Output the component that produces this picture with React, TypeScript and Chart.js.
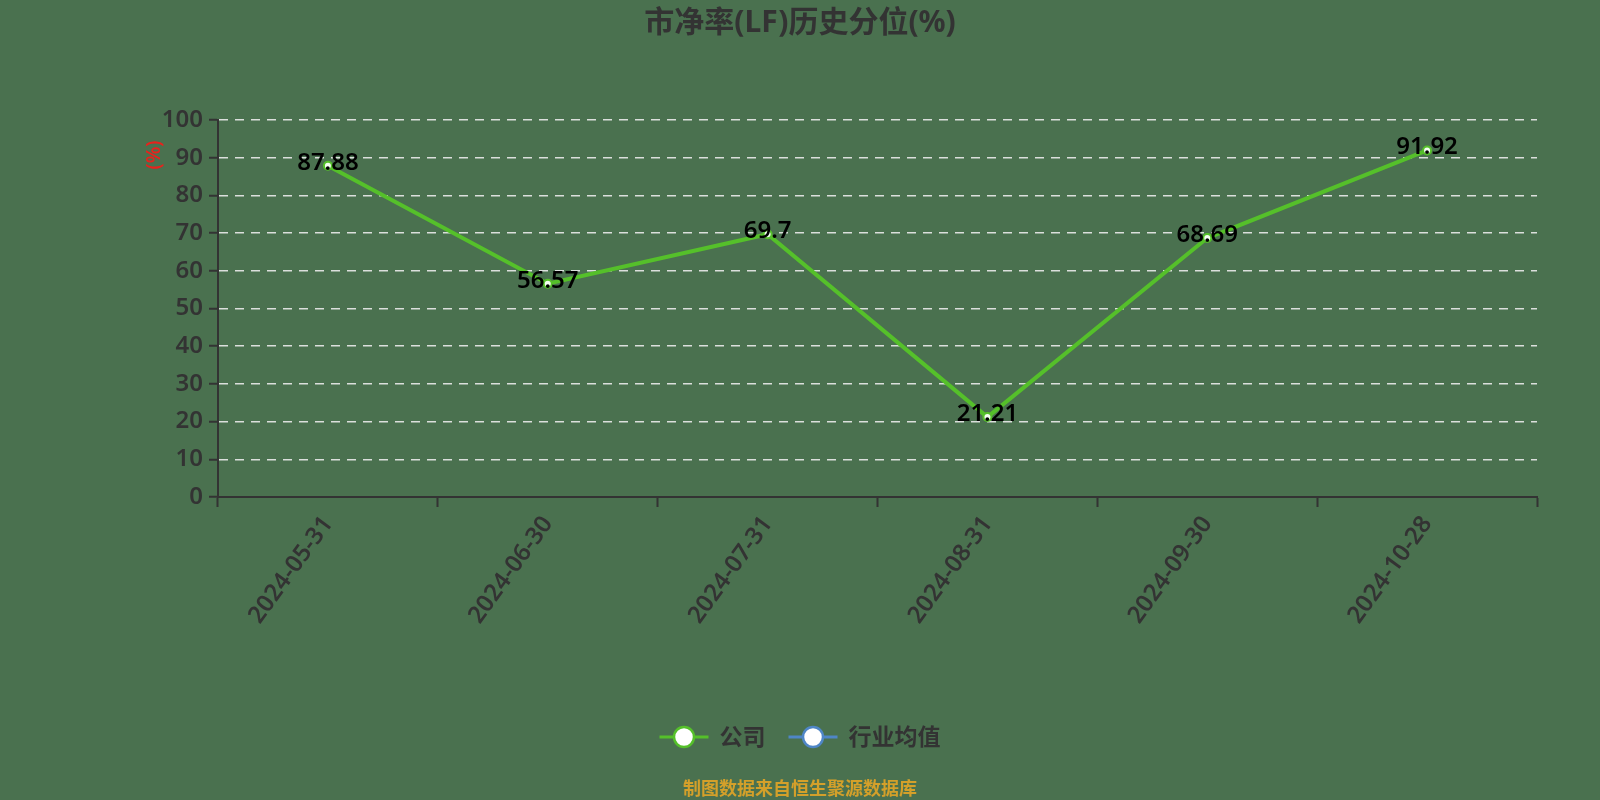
import { useEffect, useRef } from "react";
import { Chart, registerables } from "chart.js";

Chart.register(...registerables);

// 数据
const dates = ["2024-05-31", "2024-06-30", "2024-07-31", "2024-08-31", "2024-09-30", "2024-10-28"];
const companyValues = [87.88, 56.57, 69.7, 21.21, 68.69, 91.92];
const seriesNames = ["公司", "行业均值"];
const seriesColors = ["#55c02a", "#4f86c6"];
const yTicks = [0, 10, 20, 30, 40, 50, 60, 70, 80, 90, 100];

const titleText = "市净率(LF)历史分位(%)";
const yName = "(%)";
const footerText = "制图数据来自恒生聚源数据库";

const FONT = "'Noto Sans', 'Noto Sans CJK SC', sans-serif";
const BG = "#4a714f";

// 数据标签
const valueLabels = {
  id: "valueLabels",
  afterDatasetsDraw(chart: any) {
    const ctx = chart.ctx;
    const meta = chart.getDatasetMeta(0);
    ctx.save();
    ctx.font = `600 24px ${FONT}`;
    ctx.fillStyle = "#000";
    ctx.textAlign = "center";
    ctx.textBaseline = "middle";
    meta.data.forEach((pt: any, i: number) => {
      ctx.fillText(String(companyValues[i]), pt.x, pt.y - 3);
    });
    ctx.restore();
  },
};

// 标题, 单位, 图例, 来源
const decorations = {
  id: "decorations",
  afterDraw(chart: any) {
    const ctx = chart.ctx;
    const w = chart.width;
    ctx.save();

    ctx.font = `bold 30px ${FONT}`;
    ctx.fillStyle = "#333";
    ctx.textAlign = "center";
    ctx.textBaseline = "middle";
    ctx.fillText(titleText, w / 2, 23);

    ctx.save();
    ctx.translate(155, 155);
    ctx.rotate(-Math.PI / 2);
    ctx.font = `600 19px ${FONT}`;
    ctx.fillStyle = "#e8221c";
    ctx.fillText(yName, 0, 0);
    ctx.restore();

    // legend
    ctx.font = `600 23px ${FONT}`;
    const markerW = 49;
    const textGap = 11;
    const itemGap = 23;
    const widths = seriesNames.map((n) => markerW + textGap + ctx.measureText(n).width);
    const total = widths.reduce((a, b) => a + b, 0) + itemGap * (widths.length - 1);
    let x = w / 2 - total / 2;
    const ly = 737;
    seriesNames.forEach((name, i) => {
      ctx.strokeStyle = seriesColors[i];
      ctx.lineWidth = 3;
      ctx.beginPath();
      ctx.moveTo(x, ly);
      ctx.lineTo(x + markerW, ly);
      ctx.stroke();
      ctx.beginPath();
      ctx.arc(x + markerW / 2, ly, 10, 0, Math.PI * 2);
      ctx.fillStyle = "#fff";
      ctx.fill();
      ctx.lineWidth = 2.5;
      ctx.stroke();
      ctx.fillStyle = "#333";
      ctx.textAlign = "left";
      ctx.fillText(name, x + markerW + textGap, ly + 1);
      x += widths[i] + itemGap;
    });

    ctx.font = `bold 18px ${FONT}`;
    ctx.fillStyle = "#d4a02a";
    ctx.textAlign = "center";
    ctx.fillText(footerText, w / 2, 790);

    ctx.restore();
  },
};

const App = () => {
  const canvasRef = useRef<HTMLCanvasElement>(null);
  const chartRef = useRef<Chart | null>(null);

  useEffect(() => {
    document.body.style.margin = "0";
    if (!canvasRef.current) return;
    if (chartRef.current) chartRef.current.destroy();

    chartRef.current = new Chart(canvasRef.current, {
      type: "line",
      data: {
        labels: dates,
        datasets: [
          {
            label: seriesNames[0],
            data: companyValues,
            borderColor: seriesColors[0],
            borderWidth: 4,
            pointRadius: 4,
            pointBackgroundColor: "#f4fff0",
            pointBorderColor: seriesColors[0],
            pointBorderWidth: 2,
            tension: 0,
          },
        ],
      },
      options: {
        responsive: false,
        animation: false,
        layout: { padding: { top: 120, right: 63, bottom: 0, left: 0 } },
        plugins: {
          legend: { display: false },
          title: { display: false },
          tooltip: { enabled: false },
        },
        scales: {
          x: {
            type: "category",
            offset: true,
            afterFit: (scale: any) => {
              scale.height = 303;
            },
            grid: {
              offset: true,
              drawOnChartArea: false,
              drawTicks: true,
              tickLength: 10,
              tickColor: "#333",
              tickWidth: 2,
            },
            border: { display: true, color: "#333", width: 2 },
            ticks: {
              autoSkip: false,
              minRotation: 54,
              maxRotation: 54,
              padding: 4,
              color: "#333",
              font: { size: 24, family: FONT, weight: "600" },
            },
          },
          y: {
            min: 0,
            max: 100,
            afterFit: (scale: any) => {
              scale.width = 218;
            },
            afterBuildTicks: (scale: any) => {
              scale.ticks = yTicks.map((v) => ({ value: v }));
            },
            grid: {
              color: (c: any) => (c.tick && c.tick.value === 0 ? "rgba(0,0,0,0)" : "rgba(235,235,235,0.9)"),
              lineWidth: 1.5,
              drawTicks: true,
              tickLength: 9,
              tickColor: "#333",
              tickWidth: 2,
            },
            border: { display: true, color: "#333", width: 2, dash: [9, 7] },
            ticks: {
              padding: 6,
              color: "#333",
              font: { size: 24, family: FONT, weight: "600" },
            },
          },
        },
      },
      plugins: [valueLabels, decorations],
    } as any);

    return () => {
      if (chartRef.current) {
        chartRef.current.destroy();
        chartRef.current = null;
      }
    };
  }, []);

  return (
    <div style={{ position: "fixed", left: 0, top: 0, width: 1600, height: 800, background: BG }}>
      <canvas ref={canvasRef} width={1600} height={800}></canvas>
    </div>
  );
};

export default App;
